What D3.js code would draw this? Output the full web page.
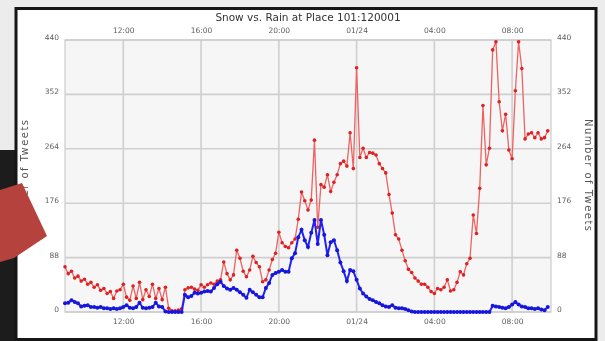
<!DOCTYPE html>
<html><head><meta charset="utf-8">
<script src="https://cdn.jsdelivr.net/npm/d3@7"></script>
<style>html,body{margin:0;padding:0;background:#ececec;overflow:hidden} svg{display:block}</style>
</head><body>
<svg id="c" width="605" height="341"></svg>
<script>
// ---- data ----
const chartTitle = "Snow vs. Rain at Place 101:120001";
const yLabel = "Number of Tweets";
const startTime = "2012-01-23T09:00:00";
const endTime = "2012-01-24T10:00:00";
const stepMinutes = 10;
const yTicks = [0, 88, 176, 264, 352, 440];
const xTicks = ["2012-01-23T12:00:00","2012-01-23T16:00:00","2012-01-23T20:00:00",
                "2012-01-24T00:00:00","2012-01-24T04:00:00","2012-01-24T08:00:00"];
const xTickLabels = ["12:00","16:00","20:00","01/24","04:00","08:00"];

// red series (10-minute counts from 09:00)
const redTweets = [
 73,62,66,55,58,50,53,45,48,40, 44,35,38,30,33,22,34,36,45,24,
 19,42,22,48,20,36,25,45,22,38, 20,40,6,2,2,3,5,36,39,40,
 37,35,44,40,44,47,45,50,52,81, 62,52,60,100,87,66,57,68,90,80,
 73,49,52,68,85,95,129,112,106,104, 112,118,150,194,180,165,181,278,137,206,
 202,222,195,210,222,240,244,236,290,232, 395,250,265,250,258,257,254,240,232,225,
 190,160,125,118,100,83,69,64,55,50, 45,45,40,33,30,38,36,40,52,34,
 36,48,65,60,78,87,157,127,200,334, 238,265,424,437,340,293,320,262,248,358,
 437,394,280,288,290,282,290,280,282,293
];
// blue series
const blueTweets = [
 14,15,19,16,14,9,10,11,8,8, 7,8,6,6,5,6,5,6,8,11,
 7,6,8,15,7,6,7,8,15,9, 8,1,0,0,0,0,0,28,24,26,
 31,30,31,33,34,33,39,45,49,42, 38,36,39,36,32,28,23,36,32,28,
 24,24,39,47,60,63,65,68,65,65, 87,95,121,133,116,105,128,149,110,149,
 125,92,113,116,100,80,66,50,68,66, 52,38,30,25,21,19,16,14,11,9,
 8,11,7,6,6,5,3,1,0,0, 0,0,0,0,0,0,0,0,0,0,
 0,0,0,0,0,0,0,0,0,0, 0,0,10,9,8,7,6,8,12,16,
 12,9,8,6,6,5,6,4,3,8
];

// ---- drawing ----
const svg = d3.select("#c");
const W = 605, H = 341;
const parse = d3.isoParse;
const t0 = parse(startTime);
const times = redTweets.map((_, i) => d3.timeMinute.offset(t0, i * stepMinutes));

const x = d3.scaleTime().domain([t0, parse(endTime)]).range([65, 551]);
const y = d3.scaleLinear().domain([0, 440]).range([312, 40]);

const defs = svg.append("defs");
defs.append("filter").attr("id","blur").attr("x","-5%").attr("y","-5%").attr("width","110%").attr("height","110%")
  .append("feGaussianBlur").attr("stdDeviation", 0.55);

const root = svg.append("g").attr("filter","url(#blur)");

// photo surroundings
root.append("rect").attr("width",W).attr("height",H).attr("fill","#ececec");
root.append("rect").attr("x",0).attr("y",150).attr("width",16).attr("height",H-150).attr("fill","#1c1c1c");
// chart paper with black frame
root.append("rect").attr("x",16).attr("y",8.5).attr("width",580).attr("height",331)
  .attr("fill","#ffffff").attr("stroke","#151515").attr("stroke-width",3);

// plot background
root.append("rect").attr("x",x.range()[0]).attr("y",y.range()[1])
  .attr("width",x.range()[1]-x.range()[0]).attr("height",y.range()[0]-y.range()[1])
  .attr("fill","#f6f6f6");

// grid
const grid = root.append("g");
grid.selectAll("line.h").data(yTicks).join("line")
  .attr("x1",x.range()[0]).attr("x2",x.range()[1])
  .attr("y1",d=>y(d)).attr("y2",d=>y(d))
  .attr("stroke","#cfcfcf").attr("stroke-width",1.6);
grid.selectAll("line.v").data(xTicks).join("line")
  .attr("x1",d=>x(parse(d))).attr("x2",d=>x(parse(d)))
  .attr("y1",y.range()[0]).attr("y2",y.range()[1])
  .attr("stroke","#cfcfcf").attr("stroke-width",1.6);
root.append("rect").attr("x",x.range()[0]).attr("y",y.range()[1])
  .attr("width",x.range()[1]-x.range()[0]).attr("height",y.range()[0]-y.range()[1])
  .attr("fill","none").attr("stroke","#cccccc").attr("stroke-width",1.2);

// axes
const fmt = (d,i) => xTickLabels[i];
const xt = xTicks.map(parse);
const axTop = d3.axisTop(x).tickValues(xt).tickFormat(fmt).tickSize(0).tickPadding(5);
const axBot = d3.axisBottom(x).tickValues(xt).tickFormat(fmt).tickSize(0).tickPadding(7);
const axL = d3.axisLeft(y).tickValues(yTicks).tickSize(0).tickPadding(5);
const axR = d3.axisRight(y).tickValues(yTicks).tickSize(0).tickPadding(5);
function styleAx(g){
  g.select(".domain").remove();
  g.selectAll("text").attr("fill","#606060").style("font-family","DejaVu Sans").style("font-size","7.5px");
}
root.append("g").attr("transform",`translate(0,${y.range()[1]-2})`).call(axTop).call(styleAx);
root.append("g").attr("transform",`translate(0,${y.range()[0]})`).call(axBot).call(styleAx);
root.append("g").attr("transform",`translate(${x.range()[0]-1},-3)`).call(axL).call(styleAx);
root.append("g").attr("transform",`translate(${x.range()[1]+1},-3)`).call(axR).call(styleAx);

// title
root.append("text").attr("x",(x.range()[0]+x.range()[1])/2).attr("y",21)
  .attr("text-anchor","middle").attr("fill","#333")
  .style("font-family","DejaVu Sans").style("font-size","10.5px").text(chartTitle);

// y labels
root.append("text").attr("transform","translate(28,176) rotate(-90)")
  .attr("text-anchor","middle").attr("fill","#555").attr("textLength",112)
  .style("font-family","DejaVu Sans").style("font-size","10px").text(yLabel);
root.append("text").attr("transform","translate(585,175) rotate(90)")
  .attr("text-anchor","middle").attr("fill","#555").attr("textLength",112)
  .style("font-family","DejaVu Sans").style("font-size","10px").text(yLabel);

// series
function series(vals, lineColor, dotColor, lw, r){
  const data = vals.map((v,i)=>({t:times[i], v}));
  const line = d3.line().x(d=>x(d.t)).y(d=>y(d.v));
  root.append("path").datum(data).attr("d",line).attr("fill","none")
    .attr("stroke",lineColor).attr("stroke-width",lw);
  root.append("g").selectAll("circle").data(data).join("circle")
    .attr("cx",d=>x(d.t)).attr("cy",d=>y(d.v)).attr("r",r).attr("fill",dotColor);
}
series(redTweets, "#ef6262", "#de2020", 1.3, 1.8);
series(blueTweets, "#2424f0", "#1414dc", 2, 2);

// red card in the photo foreground
root.append("polygon").attr("points","0,190 22,183 47,236 14,258 0,262").attr("fill","#b5423c");
</script>
</body></html>
